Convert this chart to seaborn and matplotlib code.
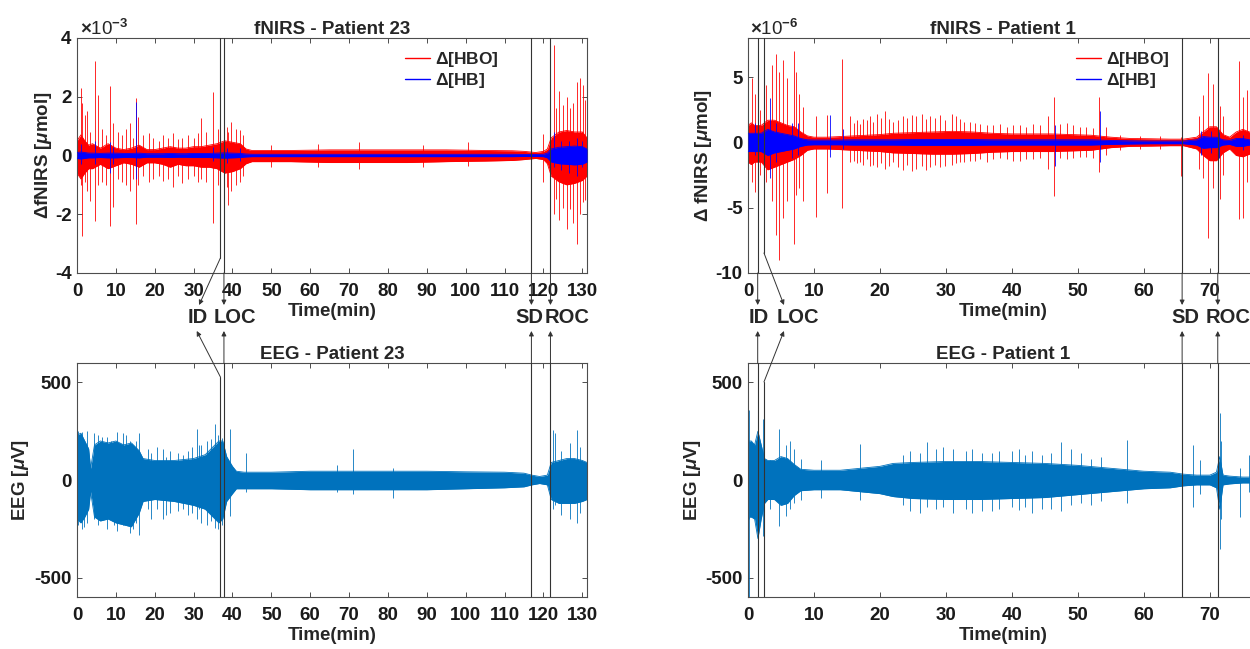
import matplotlib
matplotlib.use('Agg')
import seaborn as sns
import matplotlib.pyplot as plt
import matplotlib.transforms as mtransforms
from matplotlib.lines import Line2D

# ---------------- Patient 23 : fNIRS (x1e-3 umol) ----------------
p23_nirs_t = [0, 1, 2, 3, 4, 6, 8, 10, 12, 14, 16, 18, 20, 22, 24, 26, 28, 30, 32, 34, 36, 38,
              40, 42, 43.5, 45, 55, 65, 75, 85, 95, 105, 112, 115, 118, 120, 121, 122, 124, 126,
              128, 130, 131.2]
p23_hbo_hi = [0.5, 0.7, 0.5, 0.35, 0.4, 0.25, 0.4, 0.25, 0.2, 0.25, 0.35, 0.2, 0.2, 0.25, 0.3,
              0.25, 0.25, 0.3, 0.3, 0.35, 0.4, 0.5, 0.45, 0.4, 0.22, 0.17, 0.17, 0.19, 0.19, 0.19,
              0.19, 0.17, 0.16, 0.14, 0.1, 0.14, 0.22, 0.6, 0.8, 0.85, 0.8, 0.8, 0.6]
p23_hbo_lo = [-0.6, -0.8, -0.6, -0.45, -0.45, -0.3, -0.45, -0.35, -0.25, -0.3, -0.4, -0.25,
              -0.25, -0.3, -0.4, -0.3, -0.35, -0.35, -0.4, -0.4, -0.45, -0.6, -0.55, -0.45, -0.28,
              -0.21, -0.21, -0.24, -0.24, -0.24, -0.21, -0.19, -0.17, -0.14, -0.1, -0.14, -0.28,
              -0.7, -0.9, -1.0, -0.95, -0.85, -0.7]
p23_hb_hi = [0.1, 0.12, 0.1, 0.08, 0.08, 0.07, 0.08, 0.08, 0.07, 0.07, 0.08, 0.06, 0.06, 0.06,
             0.07, 0.06, 0.06, 0.07, 0.07, 0.07, 0.08, 0.09, 0.08, 0.07, 0.05, 0.04, 0.04, 0.04,
             0.04, 0.04, 0.04, 0.04, 0.04, 0.035, 0.035, 0.04, 0.08, 0.22, 0.28, 0.3, 0.32, 0.3,
             0.22]
p23_hb_lo = [-0.1, -0.12, -0.1, -0.08, -0.08, -0.07, -0.08, -0.08, -0.07, -0.07, -0.08, -0.06,
             -0.06, -0.06, -0.07, -0.06, -0.06, -0.07, -0.07, -0.07, -0.08, -0.09, -0.08, -0.07,
             -0.05, -0.04, -0.04, -0.04, -0.04, -0.04, -0.04, -0.04, -0.04, -0.035, -0.035,
             -0.04, -0.08, -0.22, -0.28, -0.3, -0.32, -0.3, -0.22]

p23_hbo_spk_t = [1.0, 1.4, 2.1, 2.7, 3.3, 4.6, 5.5, 6.5, 7.4, 8.5, 9.3, 10.5, 11.5, 12.6, 13.6,
                 14.5, 15.3, 15.8, 17.0, 18.5, 19.6, 21.0, 22.2, 23.5, 24.8, 26.0, 27.0, 28.5,
                 30.0, 31.2, 32.0, 33.3, 35.0, 36.2, 38.5, 38.9, 39.7, 40.8, 41.9, 42.6, 50.0,
                 62.0, 72.5, 89.0, 100.5, 119.9, 122.6, 123.3, 124.1, 125.0, 126.0, 126.7, 127.6,
                 128.6, 129.3, 130.2, 130.8]
p23_hbo_spk_hi = [2.29, 1.77, 1.37, 1.5, 0.8, 3.2, 2.05, 0.9, 0.7, 2.37, 1.09, 0.8, 0.7, 0.9, 1.1,
                  0.6, 1.94, 1.3, 0.7, 0.75, 0.6, 0.5, 0.7, 0.6, 0.75, 0.55, 0.6, 0.7, 0.6, 0.75,
                  1.26, 0.8, 2.17, 0.9, 0.97, 0.8, 1.14, 0.9, 0.86, 0.7, 0.35, 0.4, 0.45, 0.35,
                  0.45, 0.74, 3.77, 1.6, 2.2, 1.71, 2.0, 1.6, 1.8, 2.51, 2.63, 2.4, 1.9]
p23_hbo_spk_lo = [-1.0, -2.74, -0.9, -1.2, -1.54, -2.23, -1.0, -0.9, -1.0, -2.4, -1.77, -0.8, -0.9,
                  -1.0, -1.2, -0.8, -2.34, -1.0, -0.7, -0.9, -0.8, -0.7, -0.86, -0.8, -1.09, -0.7,
                  -0.95, -0.8, -0.7, -0.9, -0.8, -0.9, -2.29, -1.0, -1.09, -1.7, -1.2, -1.0, -0.9,
                  -0.7, -0.4, -0.4, -0.45, -0.4, -0.35, -0.91, -2.0, -1.49, -2.2, -1.8, -2.5,
                  -1.83, -2.3, -3.03, -2.0, -1.6, -1.5]
p23_hb_spk_t = [1.0, 4.6, 8.5, 9.2, 15.3, 35.0, 38.5, 42.0, 122.6, 124.5, 126.5, 128.5, 130.0]
p23_hb_spk_hi = [0.4, 0.5, 0.45, 0.3, 1.83, 0.3, 0.25, 0.25, 0.8, 0.5, 0.5, 0.6, 0.5]
p23_hb_spk_lo = [-0.3, -0.3, -0.6, -0.3, -0.8, -0.2, -0.25, -0.2, -0.4, -0.5, -0.6, -0.7, -0.4]

# ---------------- Patient 23 : EEG (uV) ----------------
p23_eeg_t = [0, 1, 2, 3, 3.5, 4.5, 6, 8, 10, 12, 14, 16, 17, 20, 25, 30, 33, 35, 36.5, 37.5,
             38.5, 40, 41, 43, 50, 60, 70, 80, 90, 100, 110, 115, 117, 119, 121, 122, 124, 126,
             128, 130, 131.2]
p23_eeg_hi = [230, 240, 200, 160, 60, 180, 200, 190, 200, 180, 190, 150, 110, 100, 100, 110, 130,
              170, 200, 200, 120, 70, 45, 40, 40, 45, 45, 45, 45, 42, 40, 35, 25, 18, 25, 90, 100,
              110, 110, 100, 90]
p23_eeg_lo = [-200, -220, -190, -150, -60, -190, -210, -200, -220, -230, -240, -170, -110, -100,
              -110, -130, -150, -190, -220, -200, -110, -70, -45, -45, -45, -50, -50, -50, -50,
              -45, -40, -35, -25, -18, -25, -100, -120, -120, -120, -110, -100]
p23_eeg_spk_t = [0.3, 1.2, 2.5, 4.3, 5.5, 7.6, 10.2, 11.9, 13.6, 16.0, 18.3, 22.2, 23.0, 26.0,
                 28.5, 30.8, 32.0, 35.5, 36.3, 37.2, 39.3, 43.4, 66.8, 71.0, 81.3, 122.4, 122.9,
                 124.5, 126.7, 128.5, 129.3,
                 1.8, 6.5, 8.8, 9.5, 12.5, 14.5, 15.2, 19.0, 20.5, 24.0, 27.2, 29.5, 31.5, 33.5,
                 34.5, 37.8]
p23_eeg_spk_hi = [250, 245, 251, 240, 230, 220, 246, 240, 200, 243, 157, 160, 120, 140, 150, 263,
                  180, 285, 230, 217, 260, 137, 75, 161, 60, 255, 240, 150, 190, 256, 170,
                  200, 220, 200, 180, 230, 170, 200, 140, 170, 150, 130, 170, 180, 200, 210, 250]
p23_eeg_spk_lo = [-230, -250, -220, -200, -230, -250, -262, -230, -270, -284, -150, -200, -180,
                  -160, -180, -200, -220, -245, -253, -230, -185, -60, -60, -70, -90, -150, -130,
                  -180, -200, -219, -168,
                  -240, -150, -200, -230, -200, -250, -220, -200, -150, -170, -150, -170, -150,
                  -230, -210, -230]

# ---------------- Patient 1 : fNIRS (x1e-6 umol) ----------------
p1_nirs_t = [0, 0.5, 1, 2, 3, 4, 5, 6, 7, 8, 9, 10, 12, 14, 16, 18, 20, 22, 25, 28, 31, 34, 37,
             40, 43, 46, 49, 52, 55, 58, 61, 64, 66, 68, 69, 70, 71, 72, 73, 74, 75, 76, 77.5]
p1_hbo_hi = [1.3, 1.5, 1.3, 1.3, 1.7, 1.7, 1.5, 1.3, 1.2, 0.8, 0.5, 0.4, 0.4, 0.45, 0.5, 0.55,
             0.6, 0.7, 0.75, 0.8, 0.85, 0.8, 0.7, 0.65, 0.65, 0.65, 0.6, 0.55, 0.4, 0.3, 0.28,
             0.25, 0.25, 0.4, 0.8, 1.2, 1.2, 0.6, 0.4, 0.8, 1.0, 0.8, 0.6]
p1_hbo_lo = [-1.5, -1.7, -1.5, -1.5, -2.1, -1.9, -1.7, -1.5, -1.3, -1.0, -0.6, -0.5, -0.5, -0.55,
             -0.6, -0.65, -0.7, -0.8, -0.85, -0.9, -0.9, -0.85, -0.75, -0.7, -0.7, -0.7, -0.65,
             -0.6, -0.4, -0.3, -0.28, -0.25, -0.25, -0.5, -1.0, -1.4, -1.4, -0.8, -0.5, -1.0,
             -1.1, -0.9, -0.7]
p1_hb_hi = [0.7, 0.7, 0.7, 0.7, 1.0, 0.8, 0.7, 0.6, 0.5, 0.3, 0.2, 0.18, 0.18, 0.18, 0.2, 0.2,
            0.2, 0.2, 0.22, 0.22, 0.22, 0.22, 0.2, 0.2, 0.2, 0.2, 0.2, 0.2, 0.15, 0.12, 0.1, 0.1,
            0.1, 0.2, 0.45, 0.4, 0.4, 0.2, 0.15, 0.3, 0.3, 0.2, 0.2]
p1_hb_lo = [-0.7, -0.7, -0.7, -0.7, -1.0, -0.8, -0.7, -0.6, -0.5, -0.3, -0.2, -0.18, -0.18, -0.18,
            -0.2, -0.2, -0.2, -0.2, -0.22, -0.22, -0.22, -0.22, -0.2, -0.2, -0.2, -0.2, -0.2,
            -0.2, -0.15, -0.12, -0.1, -0.1, -0.1, -0.2, -0.45, -0.4, -0.4, -0.2, -0.15, -0.3,
            -0.3, -0.2, -0.2]

p1_hbo_spk_t = [0.55, 1.06, 1.8, 2.7, 3.6, 4.2, 4.7, 5.3, 5.9, 6.9, 7.3, 7.8, 8.4, 10.3, 12.0,
                14.3, 15.5, 16.5, 17.5, 18.5, 19.5, 20.8, 22.0, 23.5, 24.8, 26.3, 27.6, 29.1,
                30.9, 32.1, 33.6, 35.2, 37.2, 39.2, 41.2, 43.2, 45.5, 46.4, 47.3, 49.3, 51.3,
                53.2, 54.3, 56.4, 59.4, 62.4, 65.7, 68.3, 69.0, 69.7, 70.5, 71.3, 71.6, 72.0,
                74.4, 75.1, 75.6, 76.5,
                # smaller spikes in the 15-52 min stretch
                16.0, 17.0, 18.0, 19.0, 20.2, 21.4, 22.7, 24.1, 25.5, 27.0, 28.3, 29.8, 31.5,
                32.8, 34.4, 36.2, 38.2, 40.2, 42.2, 44.2, 48.3, 50.3, 52.3]
p1_hbo_spk_hi = [4.9, 3.7, 2.5, 4.4, 5.9, 6.8, 5.4, 6.3, 4.9, 7.0, 5.4, 3.7, 2.7, 2.0, 2.1, 6.4,
                 2.0, 1.7, 1.8, 2.0, 2.2, 2.4, 1.6, 2.0, 2.1, 2.2, 2.0, 2.1, 2.2, 1.8, 1.6, 1.4,
                 1.3, 1.2, 1.3, 1.4, 2.0, 3.5, 1.4, 1.3, 1.2, 3.5, 1.2, 0.6, 0.5, 0.5, 0.4, 2.0,
                 3.6, 5.3, 4.5, 3.7, 2.8, 2.0, 6.2, 3.5, 4.0, 2.0,
                 1.5, 1.4, 1.7, 1.6, 1.9, 1.8, 1.7, 1.9, 2.0, 1.8, 1.9, 1.7, 2.0, 1.6, 1.5, 1.3,
                 1.4, 1.3, 1.2, 1.3, 1.5, 1.2, 1.1]
p1_hbo_spk_lo = [-3.0, -3.8, -2.5, -3.0, -4.5, -7.1, -9.0, -5.8, -4.5, -7.8, -4.0, -3.5, -4.5,
                 -5.75, -3.9, -5.0, -1.5, -1.6, -1.7, -1.8, -1.9, -2.0, -1.5, -2.1, -2.2, -1.8,
                 -1.9, -1.9, -1.7, -1.5, -1.4, -1.3, -1.3, -1.3, -1.4, -1.3, -2.0, -4.1, -1.2,
                 -1.2, -1.1, -2.3, -1.0, -0.6, -0.5, -0.5, -2.55, -2.0, -2.7, -7.3, -3.5, -5.8,
                 -4.3, -2.5, -5.9, -5.8, -3.0, -1.5,
                 -1.4, -1.5, -1.3, -1.7, -1.6, -1.8, -1.9, -1.7, -2.0, -2.1, -1.7, -1.8, -1.6,
                 -1.5, -1.4, -1.5, -1.2, -1.4, -1.3, -1.2, -1.3, -1.1, -1.2]
p1_hb_spk_t = [1.0, 3.3, 4.2, 6.6, 7.6, 12.4, 14.4, 46.5, 53.3, 68.7, 70.2, 71.4, 75.0]
p1_hb_spk_hi = [1.5, 3.4, 1.5, 1.5, 1.5, 2.1, 1.0, 1.3, 2.4, 0.9, 0.9, 0.8, 0.6]
p1_hb_spk_lo = [-1.0, -2.7, -1.5, -1.2, -1.0, -1.1, -0.5, -1.8, -1.5, -1.0, -0.8, -1.2, -0.6]

# ---------------- Patient 1 : EEG (uV) ----------------
p1_eeg_t = [0, 0.5, 1, 1.5, 2, 2.5, 3, 4, 5, 6, 7, 8, 10, 14, 17, 20, 22, 25, 30, 35, 40, 45,
            50, 55, 60, 64, 66, 68, 70, 71, 71.5, 72, 73, 75, 77.5]
p1_eeg_hi = [200, 200, 180, 250, 180, 110, 100, 100, 120, 110, 80, 55, 50, 50, 60, 70, 85, 90,
             95, 95, 90, 85, 75, 60, 45, 40, 30, 25, 25, 40, 120, 25, 20, 15, 15]
p1_eeg_lo = [-190, -190, -200, -300, -200, -120, -100, -100, -130, -120, -80, -55, -50, -50, -60,
             -70, -85, -95, -100, -100, -95, -90, -75, -60, -45, -40, -30, -25, -25, -40, -150,
             -25, -20, -15, -15]
p1_eeg_spk_t = [0.1, 0.2, 1.5, 1.7, 2.2, 3.3, 4.7, 5.8, 6.4, 6.9, 8.0, 11.0, 17.0, 23.5, 27.1,
                31.0, 35.5, 38.0, 42.0, 44.5, 47.4, 52.0, 57.4, 65.8, 67.5, 68.5, 71.5, 71.7,
                74.5, 76.0,
                24.5, 26.0, 28.5, 29.5, 33.0, 34.0, 37.0, 40.0, 41.0, 43.0, 46.0, 49.0, 50.5,
                53.5]
p1_eeg_spk_hi = [360, 150, 440, 200, 311, 100, 260, 180, 200, 157, 110, 100, 183, 130, 195, 160,
                 140, 150, 130, 130, 195, 110, 203, 240, 180, 100, 345, 200, 60, 130,
                 150, 140, 160, 170, 150, 160, 140, 150, 160, 150, 140, 160, 140, 120]
p1_eeg_spk_lo = [-600, -200, -390, -250, -287, -150, -236, -185, -150, -120, -100, -90, -100,
                 -130, -140, -170, -160, -150, -140, -150, -160, -130, -120, -133, -140, -70,
                 -355, -200, -190, -60,
                 -160, -170, -150, -140, -150, -170, -160, -140, -155, -170, -150, -130, -120,
                 -110]

# event markers (min)
ev_names = ['ID', 'LOC', 'SD', 'ROC']
p23_ev_t = [36.9, 37.8, 116.9, 121.8]
p1_ev_t = [1.47, 2.42, 65.8, 71.2]

# ---------------- style ----------------
sns.set_style('ticks')
plt.rcParams['font.family'] = ['Liberation Sans', 'DejaVu Sans']
plt.rcParams['font.weight'] = 'bold'
plt.rcParams['axes.labelweight'] = 'bold'
plt.rcParams['axes.titleweight'] = 'bold'
plt.rcParams['axes.unicode_minus'] = False
plt.rcParams['mathtext.fontset'] = 'custom'
plt.rcParams['mathtext.rm'] = 'Liberation Sans'
plt.rcParams['mathtext.it'] = 'Liberation Sans:italic'
plt.rcParams['mathtext.bf'] = 'Liberation Sans:bold'

HBO_C = '#ff0000'
HB_C = '#0000ff'
EEG_C = '#0072bd'
AX_C = '#4d4d4d'
EV_C = '#333333'


def draw_signal(ax, t, hi, lo, sp_t, sp_hi, sp_lo, color, z):
    ax.fill_between(t, lo, hi, color=color, lw=0, zorder=z)
    sns.lineplot(x=t, y=hi, ax=ax, color=color, lw=0.6, zorder=z)
    sns.lineplot(x=t, y=lo, ax=ax, color=color, lw=0.6, zorder=z)
    ax.vlines(sp_t, sp_lo, sp_hi, color=color, lw=0.7, alpha=0.85, zorder=z)


def style_axes(ax, xmax, xticks, ylim, yticks, title, ylabel, ylab_x):
    ax.set_xlim(0, xmax)
    ax.set_ylim(*ylim)
    ax.set_xticks(xticks)
    ax.set_yticks(yticks)
    ax.tick_params(direction='in', length=3.5, width=0.7, color=AX_C, top=True, right=True,
                   labelsize=13.5, labelcolor='#1a1a1a')
    ax.tick_params(axis='x', pad=7)
    ax.tick_params(axis='y', pad=4)
    for sp in ax.spines.values():
        sp.set_visible(True)
        sp.set_color(AX_C)
        sp.set_linewidth(0.8)
    ax.set_title(title, fontsize=13.5, pad=3)
    ax.set_xlabel('Time(min)', fontsize=13.5, labelpad=2.5)
    ax.set_ylabel(ylabel, fontsize=13.5)
    ax.yaxis.set_label_coords(ylab_x, 0.5)


def mark_events(fig, ax, ev_t, bent, tip_t, lab_t, below):
    # below=True: arrows leave the bottom of the axes (fNIRS), else the top (EEG)
    btf = mtransforms.blended_transform_factory(ax.transData, fig.transFigure)
    bta = ax.get_xaxis_transform()
    tip_y = 0.530 if below else 0.490
    lab_y = 0.5108
    aprops = dict(arrowstyle='-|>', color=EV_C, lw=0.7, shrinkA=0, shrinkB=0, mutation_scale=7)
    for i, t in enumerate(ev_t):
        edge = 0.0 if below else 1.0
        if i in bent:
            f = bent[i]
            if below:
                ax.axvline(t, f, 1, color=EV_C, lw=0.8, zorder=5)
            else:
                ax.axvline(t, 0, f, color=EV_C, lw=0.8, zorder=5)
            start, tx = (t, f), tip_t[i]
        else:
            ax.axvline(t, 0, 1, color=EV_C, lw=0.8, zorder=5)
            start, tx = (t, edge), t
        ax.annotate('', xy=(tx, tip_y), xycoords=btf, xytext=start, textcoords=bta,
                    arrowprops=aprops, annotation_clip=False)
        if below:
            ax.text(lab_t[i], lab_y, ev_names[i], transform=btf, ha='center', va='center',
                    fontsize=14.5, fontweight='bold', clip_on=False)


fig = plt.figure(figsize=(12.5, 6.49), dpi=100)
ax_n23 = fig.add_axes([0.0616, 0.5794, 0.408, 0.3621])
ax_e23 = fig.add_axes([0.0616, 0.0801, 0.408, 0.3606])
ax_n1 = fig.add_axes([0.5984, 0.5794, 0.408, 0.3621])
ax_e1 = fig.add_axes([0.5984, 0.0801, 0.408, 0.3606])

# Patient 23
draw_signal(ax_n23, p23_nirs_t, p23_hbo_hi, p23_hbo_lo, p23_hbo_spk_t, p23_hbo_spk_hi,
            p23_hbo_spk_lo, HBO_C, 2)
draw_signal(ax_n23, p23_nirs_t, p23_hb_hi, p23_hb_lo, p23_hb_spk_t, p23_hb_spk_hi,
            p23_hb_spk_lo, HB_C, 3)
draw_signal(ax_e23, p23_eeg_t, p23_eeg_hi, p23_eeg_lo, p23_eeg_spk_t, p23_eeg_spk_hi,
            p23_eeg_spk_lo, EEG_C, 2)
style_axes(ax_n23, 131.2, range(0, 131, 10), (-4, 4), [-4, -2, 0, 2, 4],
           'fNIRS - Patient 23', r'$\Delta$fNIRS [$\mu$mol]', -0.045)
style_axes(ax_e23, 131.2, range(0, 131, 10), (-600, 600), [-500, 0, 500],
           'EEG - Patient 23', r'EEG [$\mu$V]', -0.09)

# Patient 1
draw_signal(ax_n1, p1_nirs_t, p1_hbo_hi, p1_hbo_lo, p1_hbo_spk_t, p1_hbo_spk_hi,
            p1_hbo_spk_lo, HBO_C, 2)
draw_signal(ax_n1, p1_nirs_t, p1_hb_hi, p1_hb_lo, p1_hb_spk_t, p1_hb_spk_hi,
            p1_hb_spk_lo, HB_C, 3)
draw_signal(ax_e1, p1_eeg_t, p1_eeg_hi, p1_eeg_lo, p1_eeg_spk_t, p1_eeg_spk_hi,
            p1_eeg_spk_lo, EEG_C, 2)
style_axes(ax_n1, 77.3, range(0, 71, 10), (-10, 8), [-10, -5, 0, 5],
           'fNIRS - Patient 1', r'$\Delta$ fNIRS [$\mu$mol]', -0.067)
style_axes(ax_e1, 77.3, range(0, 71, 10), (-600, 600), [-500, 0, 500],
           'EEG - Patient 1', r'EEG [$\mu$V]', -0.088)

# exponent labels
ax_n23.text(0.006, 0.995, r'$\times$10$^{-3}$', transform=ax_n23.transAxes, ha='left',
            va='bottom', fontsize=13.5, fontweight='normal')
ax_n1.text(0.004, 0.995, r'$\times$10$^{-6}$', transform=ax_n1.transAxes, ha='left',
           va='bottom', fontsize=13.5, fontweight='normal')

# legends
for ax in (ax_n23, ax_n1):
    handles = [Line2D([], [], color=HBO_C, lw=1), Line2D([], [], color=HB_C, lw=1)]
    ax.legend(handles, [r'$\Delta$[HBO]', r'$\Delta$[HB]'], loc='upper right',
              bbox_to_anchor=(0.826, 0.95), frameon=False, fontsize=12.5, borderaxespad=0,
              borderpad=0, handlelength=1.45, handletextpad=0.25, labelspacing=0.15)

# event lines and arrows
mark_events(fig, ax_n23, p23_ev_t, {0: 0.064}, {0: 31.4}, [31.1, 40.6, 116.5, 126.1], True)
mark_events(fig, ax_e23, p23_ev_t, {0: 0.94}, {0: 30.8}, None, False)
mark_events(fig, ax_n1, p1_ev_t, {1: 0.085}, {1: 5.45}, [1.67, 7.5, 66.3, 72.7], True)
mark_events(fig, ax_e1, p1_ev_t, {1: 0.919}, {1: 5.45}, None, False)

fig.savefig('out.png', dpi=100)
